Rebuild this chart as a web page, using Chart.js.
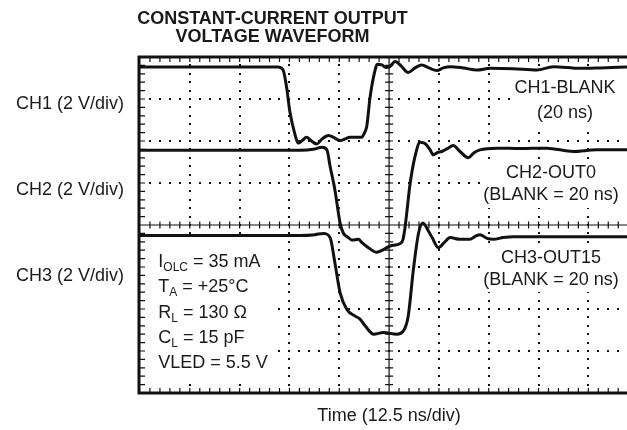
<!DOCTYPE html>
<html><head><meta charset="utf-8">
<script src="https://cdn.jsdelivr.net/npm/chart.js@4/dist/chart.umd.min.js"></script>
<style>html,body{margin:0;padding:0;background:#fff;overflow:hidden}#wrap{width:627px;height:430px;position:relative}</style>
</head><body><div id="wrap"><canvas id="c"></canvas></div>
<script>
// ---------- text ----------
const titleLines = ['CONSTANT-CURRENT OUTPUT', 'VOLTAGE WAVEFORM'];
const xAxisLabel = 'Time (12.5 ns/div)';
const channelLabels = ['CH1 (2 V/div)', 'CH2 (2 V/div)', 'CH3 (2 V/div)'];
const channelLabelLevels = [2.89, 0.843, -1.205];       // screen divisions
const traceNotes = [['CH1-BLANK', '(20 ns)'], ['CH2-OUT0', '(BLANK = 20 ns)'], ['CH3-OUT15', '(BLANK = 20 ns)']];
const conditions = [['I', 'OLC', ' = 35 mA'], ['T', 'A', ' = +25°C'], ['R', 'L', ' = 130 Ω'], ['C', 'L', ' = 15 pF'], ['VLED = 5.5 V', '', '']];

// ---------- data (time in ns, level in screen divisions from centre) ----------
const ch1Time = [0, 32.6, 34.6, 35.9, 36.8, 37.6, 38.9, 39.7, 40.7, 41.8, 42.9, 44.4, 45.7, 47.3, 48.7, 50.2, 51.5, 52.7, 55.6, 56.2, 56.9, 57.7, 58.7, 59.6, 60.7, 61.7, 62.7, 64.0, 65.5, 67.3, 69.0, 70.7, 72.5, 74.5, 76.1, 77.8, 81.1, 84.5, 87.9, 93.6, 99.6, 103.7, 110.4, 115.5, 122.2];
const ch1Level = [3.76, 3.76, 3.76, 3.69, 3.27, 2.70, 2.15, 1.95, 2.01, 2.09, 2.01, 1.93, 2.05, 2.13, 2.08, 2.01, 2.05, 2.09, 2.09, 2.17, 2.35, 3.02, 3.57, 3.83, 3.81, 3.75, 3.77, 3.89, 3.79, 3.63, 3.74, 3.81, 3.74, 3.68, 3.74, 3.77, 3.74, 3.69, 3.73, 3.72, 3.69, 3.77, 3.73, 3.74, 3.76];
const ch2Time = [0, 40.2, 43.9, 45.6, 46.9, 47.7, 48.9, 50.2, 51.0, 52.3, 53.2, 54.8, 55.7, 57.3, 59.4, 61.0, 62.8, 65.3, 66.0, 66.5, 67.8, 69.0, 70.3, 71.5, 72.8, 73.6, 74.5, 75.7, 77.1, 78.6, 80.3, 82.4, 83.8, 85.3, 89.5, 95.4, 102.1, 108.7, 114.6, 122.2];
const ch2Level = [1.78, 1.78, 1.81, 1.85, 1.79, 1.40, 0.84, 0.05, -0.19, -0.30, -0.36, -0.34, -0.42, -0.54, -0.65, -0.59, -0.50, -0.44, -0.34, -0.06, 1.00, 1.63, 1.97, 1.94, 1.79, 1.67, 1.72, 1.75, 1.82, 1.89, 1.75, 1.60, 1.72, 1.79, 1.83, 1.82, 1.83, 1.75, 1.79, 1.79];
const ch3Time = [0, 40.2, 43.9, 46.0, 47.7, 48.9, 50.2, 51.9, 54.0, 55.2, 56.5, 58.6, 61.1, 64.4, 66.1, 67.3, 68.6, 69.9, 71.0, 72.4, 73.3, 74.9, 76.3, 77.8, 80.3, 82.8, 84.1, 85.3, 87.1, 88.7, 91.1, 93.7, 122.2];
const ch3Level = [-0.25, -0.25, -0.23, -0.20, -0.30, -0.90, -1.61, -2.01, -2.17, -2.24, -2.40, -2.60, -2.56, -2.60, -2.52, -2.17, -1.06, -0.19, 0.05, -0.15, -0.30, -0.54, -0.42, -0.30, -0.34, -0.34, -0.27, -0.23, -0.32, -0.34, -0.30, -0.28, -0.28];

// ---------- scope geometry ----------
const NS_PER_DIV = 12.5, X_DIVS = 10, Y_DIVS = 8, MINOR = 5;
const X_VISIBLE_MAX = 122.2;
const INK = '#111';
const FONT = "'Liberation Sans', Arial, Helvetica, sans-serif";

const layoutPx = {
  title: {x: 272.5, base: [24.3, 41.7]},
  xLabel: {x: 389, base: 421},
  notes: [{x: 565, base: [93.3, 118.3]}, {x: 551, base: [178.3, 200]}, {x: 551, base: [263.3, 285]}],
  noteBoxes: [[512, 72, 130, 54], [480, 162, 160, 46], [480, 243, 160, 49]],
  condBox: [145, 240, 131, 144],
  cond: {x: 158.3, base0: 266.7, step: 25.4}
};

const pts = (t, v) => t.map((x, i) => ({x, y: v[i]}));
const ds = (label, t, v) => ({label, data: pts(t, v), borderColor: INK, borderWidth: 3, pointRadius: 0,
  cubicInterpolationMode: 'monotone', borderJoinStyle: 'round', borderCapStyle: 'round', fill: false});

const scopePlugin = {
  id: 'scope',
  beforeDatasetsDraw(chart) {
    const {ctx, chartArea: a, scales: {x, y}} = chart;
    ctx.save();
    ctx.fillStyle = INK; ctx.strokeStyle = INK;
    const yMin = -Y_DIVS / 2, xMinor = NS_PER_DIV / MINOR, yMinor = 1 / MINOR;
    // dotted vertical gridlines
    for (let i = 1; i < X_DIVS; i++) {
      if (i === X_DIVS / 2) continue;
      const px = Math.round(x.getPixelForValue(i * NS_PER_DIV));
      if (px > a.right) continue;
      for (let j = 1; j < Y_DIVS * MINOR; j++) {
        const py = Math.round(y.getPixelForValue(yMin + j * yMinor));
        ctx.fillRect(px - 1, py - 1, 2, 2);
      }
    }
    // dotted horizontal gridlines
    for (let j = 1; j < Y_DIVS; j++) {
      if (j === Y_DIVS / 2) continue;
      const py = Math.round(y.getPixelForValue(yMin + j));
      for (let k = 1; k < X_DIVS * MINOR; k++) {
        const px = Math.round(x.getPixelForValue(k * xMinor));
        if (px > a.right) break;
        ctx.fillRect(px - 1, py - 1, 2, 2);
      }
    }
    // centre axes with minor ticks
    ctx.lineWidth = 1.2;
    const cx = x.getPixelForValue(NS_PER_DIV * X_DIVS / 2), cy = y.getPixelForValue(0);
    ctx.beginPath();
    ctx.moveTo(cx, a.top); ctx.lineTo(cx, a.bottom);
    ctx.moveTo(a.left, cy); ctx.lineTo(a.right, cy);
    for (let j = 1; j < Y_DIVS * MINOR; j++) {
      const py = y.getPixelForValue(yMin + j * yMinor);
      ctx.moveTo(cx - 4, py); ctx.lineTo(cx + 4, py);
      ctx.moveTo(a.left, py); ctx.lineTo(a.left + 5, py);
    }
    for (let k = 1; k < X_DIVS * MINOR; k++) {
      const px = x.getPixelForValue(k * xMinor);
      if (px > a.right) break;
      ctx.moveTo(px, cy - 3.5); ctx.lineTo(px, cy + 3.5);
      ctx.moveTo(px, a.top); ctx.lineTo(px, a.top + 5);
      ctx.moveTo(px, a.bottom); ctx.lineTo(px, a.bottom - 5);
    }
    ctx.stroke();
    // frame
    ctx.lineWidth = 3;
    ctx.beginPath();
    ctx.moveTo(a.right + 2, a.top); ctx.lineTo(a.left - 1, a.top);
    ctx.lineTo(a.left - 1, a.bottom); ctx.lineTo(a.right + 2, a.bottom);
    ctx.stroke();
    // white panels behind annotations
    ctx.fillStyle = '#fff';
    layoutPx.noteBoxes.concat([layoutPx.condBox]).forEach(b => ctx.fillRect(b[0], b[1], b[2], b[3]));
    ctx.restore();
  },
  afterDraw(chart) {
    const {ctx} = chart;
    ctx.save();
    ctx.fillStyle = '#1a1a1a';
    ctx.textBaseline = 'alphabetic';
    ctx.textAlign = 'center';
    ctx.font = 'bold 18px ' + FONT;
    titleLines.forEach((t, i) => ctx.fillText(t, layoutPx.title.x, layoutPx.title.base[i]));
    ctx.font = '18px ' + FONT;
    ctx.fillText(xAxisLabel, layoutPx.xLabel.x, layoutPx.xLabel.base);
    traceNotes.forEach((pair, i) => pair.forEach((t, j) => ctx.fillText(t, layoutPx.notes[i].x, layoutPx.notes[i].base[j])));
    ctx.textAlign = 'left';
    conditions.forEach((c, i) => {
      const bx = layoutPx.cond.x, by = layoutPx.cond.base0 + i * layoutPx.cond.step;
      ctx.font = '18px ' + FONT;
      ctx.fillText(c[0], bx, by);
      let w = ctx.measureText(c[0]).width;
      if (c[1]) {
        ctx.font = '12px ' + FONT;
        ctx.fillText(c[1], bx + w, by + 4);
        w += ctx.measureText(c[1]).width;
        ctx.font = '18px ' + FONT;
      }
      if (c[2]) ctx.fillText(c[2], bx + w, by);
    });
    ctx.restore();
  }
};

Chart.defaults.font.family = FONT;
new Chart(document.getElementById('c'), {
  type: 'line',
  data: {datasets: [ds('CH1-BLANK', ch1Time, ch1Level), ds('CH2-OUT0', ch2Time, ch2Level), ds('CH3-OUT15', ch3Time, ch3Level)]},
  options: {
    responsive: true, maintainAspectRatio: false, animation: false,
    layout: {padding: {left: 0, top: 57, right: 0, bottom: 37}},
    plugins: {legend: {display: false}, tooltip: {enabled: false}, title: {display: false}},
    scales: {
      x: {type: 'linear', min: 0, max: X_VISIBLE_MAX, display: false},
      y: {
        type: 'linear', min: -Y_DIVS / 2, max: Y_DIVS / 2,
        grid: {display: false, drawTicks: false}, border: {display: false},
        afterFit: s => { s.width = 140; },
        afterBuildTicks: s => { s.ticks = channelLabelLevels.map(v => ({value: v})); },
        ticks: {autoSkip: false, padding: 16, color: '#1a1a1a', font: {size: 18},
          callback: (v, i) => channelLabels[i]}
      }
    }
  },
  plugins: [scopePlugin]
});
</script></body></html>
